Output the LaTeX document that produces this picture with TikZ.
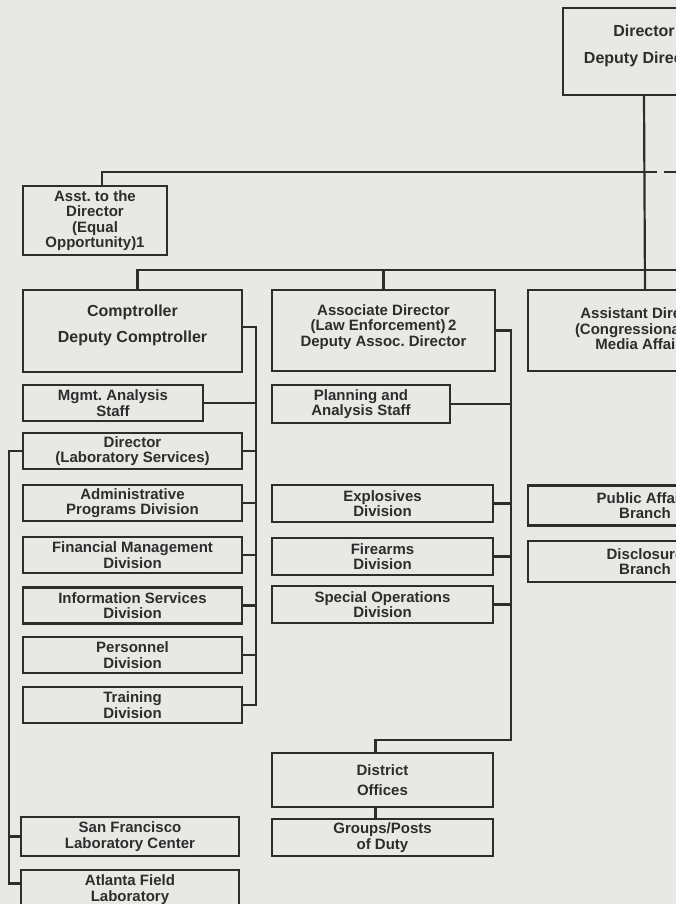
\documentclass[tikz,border=0pt]{standalone}
\usepackage{fontspec}
\setmainfont{Liberation Sans}
\usepackage{tikz}
\definecolor{orgInk}  {RGB}{ 45, 45, 45}
\definecolor{orgPaper}{RGB}{232,232,229}
\newcommand{\orgfont}{\fontsize{15}{15.5}\selectfont\bfseries\frenchspacing}
\newcommand{\orghead}{\fontsize{16}{17}\selectfont\bfseries\frenchspacing}

\begin{document}
\begin{tikzpicture}[
  x=1pt,y=-1pt,
  every node/.style={font=\orgfont,text=orgInk},
  wire/.style={draw=orgInk,line width=2.2pt},
  unit/.style={draw=orgInk,fill=orgPaper,line width=2.2pt,align=center,inner sep=0pt},
  head/.style={unit,font=\orghead,text depth=14pt},
  compdiv/.style={unit,minimum width=219pt,minimum height=36pt},
  lawdiv/.style={unit,minimum width=221pt,minimum height=37pt},
  pubdiv/.style={unit,minimum width=234pt,minimum height=40pt},
  labdiv/.style={unit,minimum width=218pt,minimum height=39pt}
]
\useasboundingbox (0,0) rectangle (676,904);
\clip (0,0) rectangle (676,904);
\fill[orgPaper] (0,0) rectangle (676,904);

\node[head,minimum width=162pt,minimum height=87pt] (director) at (644,51.5) {Director\\[10pt]Deputy Director};
\node[unit,minimum width=144pt,minimum height=69pt] (asstdir) at (95,220.5) {Asst. to the\\Director\\(Equal\\Opportunity)1};

\node[head,minimum width=219pt,minimum height=82pt] (comp) at (132.5,331) {Comptroller\\[9pt]Deputy Comptroller};
\node[unit,minimum width=223pt,minimum height=81pt,text depth=10pt] (assoc) at (383.5,330.5) {Associate Director\\(Law Enforcement)\,2\\Deputy Assoc. Director};
\node[unit,minimum width=234pt,minimum height=81pt] (asstcong) at (645,330.5) {Assistant Director\\(Congressional and\\Media Affairs)};

\node[unit,minimum width=180pt,minimum height=36pt] (mgmt) at (113,403) {Mgmt. Analysis\\Staff};
\node[compdiv] (labdir)   at (132.5,451)   {Director\\(Laboratory Services)};
\node[compdiv] (admin)    at (132.5,503)   {Administrative\\Programs Division};
\node[compdiv] (finman)   at (132.5,555)   {Financial Management\\Division};
\node[compdiv] (infoserv) at (132.5,605.5) {Information Services\\Division};
\node[compdiv] (pers)     at (132.5,655)   {Personnel\\Division};
\node[compdiv] (train)    at (132.5,705)   {Training\\Division};
\node[labdiv]  (sf)       at (130,836.5)   {San Francisco\\Laboratory Center};
\node[labdiv]  (atl)      at (130,889.5)   {Atlanta Field\\Laboratory};

\node[unit,minimum width=178pt,minimum height=38pt] (plan) at (361,404) {Planning and\\Analysis Staff};
\node[lawdiv] (expl)    at (382.5,503.5) {Explosives\\Division};
\node[lawdiv] (fire)    at (382.5,556.5) {Firearms\\Division};
\node[lawdiv] (specops) at (382.5,604.5) {Special Operations\\Division};
\node[lawdiv,minimum height=54pt] (district) at (382.5,780) {District\\[4pt]Offices};
\node[lawdiv] (groups)  at (382.5,837.5) {Groups/Posts\\of Duty};

\node[pubdiv] (pubaff) at (645,505.5) {Public Affairs\\Branch};
\node[pubdiv,minimum height=41pt] (discl) at (645,561.5) {Disclosure\\Branch};

\coordinate (topbar)   at (645,172);
\coordinate (topend)   at (690,172);
\coordinate (midend)   at (690,270);
\coordinate (cbus)     at (256,0);
\coordinate (abus)     at (511,0);
\coordinate (lbus)     at (9,0);
\coordinate (distjoin) at (511,740);
\coordinate (atlstub)  at ([yshift=6pt]atl.west);

\draw[wire] (director.south) -- (asstcong.north);
\draw[wire] ([xshift=7pt]asstdir.north) |- (topbar);
\draw[wire,dashed,dash pattern=on 12pt off 7pt] (topbar) -- (topend);
\draw[wire] ([xshift=5pt]comp.north) |- (midend);
\draw[wire] (assoc.north) -- (assoc.north |- midend);

\draw[wire] ([yshift=4pt]comp.east) -| (cbus |- train.east) -- (train.east);
\draw[wire] (mgmt.east) -- (mgmt.east -| cbus);
\draw[wire] (labdir.east) -- (labdir.east -| cbus);
\draw[wire] (admin.east) -- (admin.east -| cbus);
\draw[wire] (finman.east) -- (finman.east -| cbus);
\draw[wire] (infoserv.east) -- (infoserv.east -| cbus);
\draw[wire] (pers.east) -- (pers.east -| cbus);

\draw[wire] (labdir.west) -| (atlstub -| lbus) -- (atlstub);
\draw[wire] (sf.west) -- (sf.west -| lbus);

\draw[wire] (assoc.east) -| (distjoin) -| ([xshift=-7pt]district.north);
\draw[wire] (plan.east) -- (plan.east -| abus);
\draw[wire] (expl.east) -- (expl.east -| abus);
\draw[wire] (fire.east) -- (fire.east -| abus);
\draw[wire] (specops.east) -- (specops.east -| abus);
\draw[wire] ([xshift=-7pt]district.south) -- ([xshift=-7pt]groups.north);
\end{tikzpicture}
\end{document}
